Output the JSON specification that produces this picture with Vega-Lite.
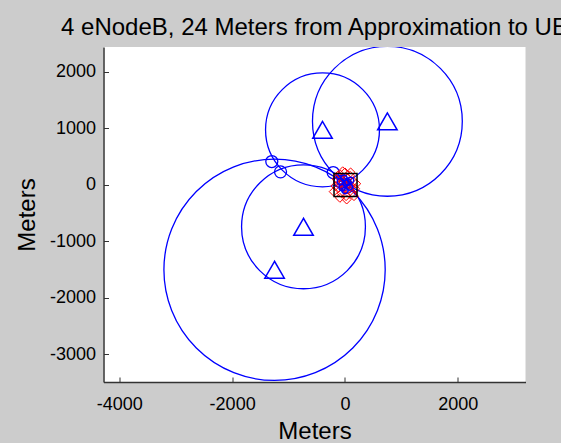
{
  "$schema": "https://vega.github.io/schema/vega-lite/v6.json",
  "width": 422,
  "height": 335,
  "autosize": "none",
  "padding": {"left": 103.5, "top": 47, "right": 35.5, "bottom": 61},
  "background": "#cccccc",
  "view": {"fill": "white", "stroke": null},
  "title": {
    "text": "4 eNodeB, 24 Meters from Approximation to UE",
    "font": "Liberation Sans",
    "fontSize": 24,
    "fontWeight": "normal",
    "color": "black",
    "anchor": "middle",
    "frame": "group",
    "baseline": "bottom",
    "offset": 10,
    "dy": 27
  },
  "datasets": {
    "towers": [
      {"x": -398, "y": 973, "r": 1009},
      {"x": 752, "y": 1124, "r": 1327},
      {"x": -735, "y": -743, "r": 1097},
      {"x": -1248, "y": -1504, "r": 1960}
    ],
    "inter": [
      {"x": -1297, "y": 412},
      {"x": -1142, "y": 230},
      {"x": -209, "y": 218},
      {"x": -90, "y": 60},
      {"x": 40, "y": -40},
      {"x": 0, "y": 10}
    ],
    "est": [
      {"x": -150, "y": 100}, {"x": -120, "y": -60}, {"x": -80, "y": 180}, {"x": -60, "y": -150},
      {"x": -30, "y": 50}, {"x": 0, "y": 220}, {"x": 20, "y": -200}, {"x": 40, "y": 120},
      {"x": 60, "y": -80}, {"x": 90, "y": 160}, {"x": 110, "y": -20}, {"x": 130, "y": -140},
      {"x": 150, "y": 60}, {"x": -100, "y": 20}, {"x": -170, "y": -20}, {"x": 70, "y": 30},
      {"x": -20, "y": -60}, {"x": 180, "y": -70}, {"x": 30, "y": -260}, {"x": -40, "y": 240},
      {"x": 100, "y": 220}, {"x": -130, "y": 160}, {"x": 160, "y": -200}, {"x": -90, "y": -230},
      {"x": 0, "y": 0}, {"x": 200, "y": 20}, {"x": -200, "y": -120}
    ],
    "blue": [
      {"x": -50, "y": -50}, {"x": 50, "y": 50}, {"x": 0, "y": -100}, {"x": 80, "y": -40},
      {"x": -80, "y": 60}, {"x": 20, "y": 30}, {"x": -20, "y": 120}, {"x": 100, "y": 80}
    ],
    "ue": [{"x": 10, "y": -5}]
  },
  "encoding": {
    "x": {
      "field": "x", "type": "quantitative",
      "scale": {"domain": [-4280, 3200], "nice": false, "zero": false},
      "axis": {
        "title": "Meters", "values": [-4000, -2000, 0, 2000], "grid": false,
        "labelExpr": "datum.value + ''",
        "domainColor": "#333333", "domainWidth": 1.5,
        "tickColor": "#333333", "tickSize": -5, "tickWidth": 1,
        "labelFont": "Liberation Sans", "labelFontSize": 18, "labelColor": "black",
        "labelPadding": 18,
        "titleFont": "Liberation Sans", "titleFontSize": 24, "titleFontWeight": "normal",
        "titleColor": "black", "titlePadding": 6
      }
    },
    "y": {
      "field": "y", "type": "quantitative",
      "scale": {"domain": [-3490, 2440], "nice": false, "zero": false},
      "axis": {
        "title": "Meters", "values": [-3000, -2000, -1000, 0, 1000, 2000], "grid": false,
        "labelExpr": "datum.value + ''",
        "domainColor": "#333333", "domainWidth": 1.5,
        "tickColor": "#333333", "tickSize": -5, "tickWidth": 1,
        "labelFont": "Liberation Sans", "labelFontSize": 18, "labelColor": "black",
        "labelPadding": 13,
        "titleFont": "Liberation Sans", "titleFontSize": 24, "titleFontWeight": "normal",
        "titleColor": "black", "titlePadding": 10
      }
    }
  },
  "layer": [
    {
      "data": {"name": "towers"},
      "mark": {"type": "point", "shape": "circle", "filled": false, "stroke": "blue", "strokeWidth": 1.3, "opacity": 1, "clip": true},
      "encoding": {
        "size": {
          "field": "r", "type": "quantitative",
          "scale": {"type": "pow", "exponent": 2, "domain": [0, 1000], "range": [0, 12747]},
          "legend": null
        }
      }
    },
    {
      "data": {"name": "towers"},
      "mark": {"type": "point", "shape": "triangle-up", "filled": false, "stroke": "blue", "strokeWidth": 1.5, "opacity": 1, "size": 380}
    },
    {
      "data": {"name": "inter"},
      "mark": {"type": "point", "shape": "circle", "filled": false, "stroke": "blue", "strokeWidth": 1.3, "opacity": 1, "size": 144}
    },
    {
      "data": {"name": "est"},
      "mark": {"type": "point", "shape": "diamond", "filled": false, "stroke": "red", "strokeWidth": 1, "opacity": 1, "size": 80}
    },
    {
      "data": {"name": "blue"},
      "mark": {"type": "point", "shape": "circle", "filled": false, "stroke": "blue", "strokeWidth": 1.5, "opacity": 1, "size": 40}
    },
    {
      "data": {"name": "ue"},
      "mark": {"type": "point", "shape": "square", "filled": false, "stroke": "black", "strokeWidth": 1.5, "opacity": 1, "size": 529}
    }
  ]
}
